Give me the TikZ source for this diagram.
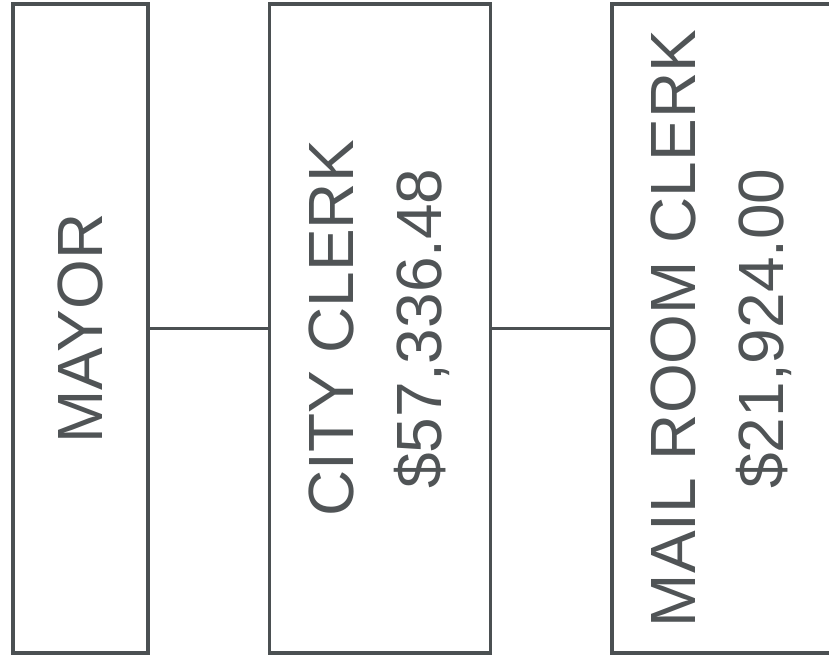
\documentclass[tikz,border=0pt]{standalone}
\usepackage{fontspec}
\setmainfont{Liberation Sans}
\usetikzlibrary{positioning}

\begin{document}
\begin{tikzpicture}[
        post/.style={
            draw=linegray,
            line width=3.4pt,
            minimum height=19.45cm,
            inner sep=0pt,
            text=textgray,
            font=\fontsize{54.6}{75}\selectfont
        },
        link/.style={draw=linegray, line width=3.2pt}
    ]
        \definecolor{linegray}{HTML}{4B5052}
        \definecolor{textgray}{HTML}{505456}

        \useasboundingbox (0,0) rectangle (24.87,19.71);
        \clip (0,0) rectangle (24.87,19.71);

        \node[post, minimum width=4.05cm] (mayor) at (2.415,9.855)
            {\rotatebox{90}{MAYOR}};
        \node[post, minimum width=6.63cm] (cityclerk) at (11.4,9.855)
            {\rotatebox{90}{\begin{tabular}{@{}c@{}}CITY CLERK\\\$57,336.48\end{tabular}}};
        \node[post, minimum width=6.63cm] (mailclerk) at (21.67,9.855)
            {\rotatebox{90}{\begin{tabular}{@{}c@{}}MAIL ROOM CLERK\\\$21,924.00\end{tabular}}};

        \draw[link] (mayor) -- (cityclerk);
        \draw[link] (cityclerk) -- (mailclerk);

    \end{tikzpicture}
\end{document}
